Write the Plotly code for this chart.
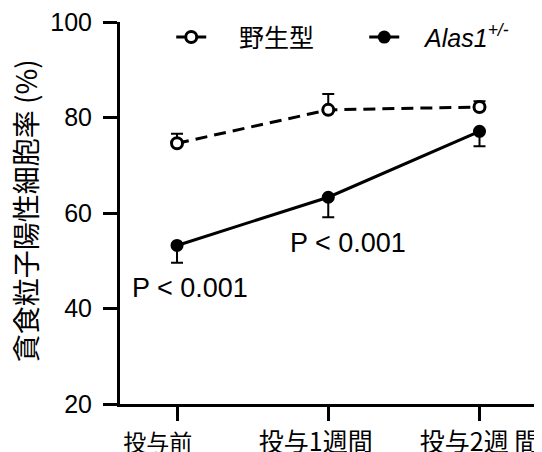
import plotly.graph_objects as go

NB = "\u00a0"
WS = "\u3000"
categories = ['<span style="font-size:23px">投与前' + WS + NB * 3 + '</span>',
              "投与1週間" + WS, "投与2週 間"]
wt_values = [74.6, 81.6, 82.2]
wt_err = [2.0, 3.3, 1.2]
alas_values = [53.2, 63.3, 77.1]
alas_err = [3.6, 4.2, 3.1]
y_ticks = [20, 40, 60, 80, 100]
p_labels = ["P < 0.001", "P < 0.001"]
y_title = "貪食粒子陽性細胞率 (%)"

FONT = "Liberation Sans, Arial, Noto Sans CJK JP, sans-serif"
CJK = "Noto Sans CJK JP, Liberation Sans, sans-serif"

x_idx = list(range(len(categories)))

fig = go.Figure()
fig.add_trace(go.Scatter(
    x=x_idx, y=wt_values, mode="lines+markers", name=NB * 4 + "野生型",
    line=dict(color="black", width=3, dash="12px,7px"),
    marker=dict(symbol="circle", size=11, color="white", line=dict(color="black", width=3)),
    error_y=dict(type="data", symmetric=False, array=wt_err, arrayminus=[0]*3,
                 color="black", thickness=2, width=6),
))
fig.add_trace(go.Scatter(
    x=x_idx, y=alas_values, mode="lines+markers", name=NB * 3 + "<i>Alas1<sup>+/-</sup></i>",
    line=dict(color="black", width=3),
    marker=dict(symbol="circle", size=13, color="black"),
    error_y=dict(type="data", symmetric=False, array=[0]*3, arrayminus=alas_err,
                 color="black", thickness=2, width=6),
))

fig.add_annotation(x=x_idx[0], y=alas_values[0] - 8.9, text=p_labels[0], showarrow=False,
                   xref="x", yref="y", xshift=13, font=dict(family=FONT, size=27, color="black"))
fig.add_annotation(x=x_idx[1], y=alas_values[1] - 9.6, text=p_labels[1], showarrow=False,
                   xref="x", yref="y", xshift=20, font=dict(family=FONT, size=27, color="black"))
fig.add_annotation(x=-0.226, y=0.505, xref="paper", yref="paper", text=y_title,
                   showarrow=False, textangle=-90, xanchor="center", yanchor="middle",
                   font=dict(family=CJK, size=28, color="black"))

fig.update_layout(
    width=542, height=452,
    margin=dict(l=112, r=10, t=14, b=56, autoexpand=False),
    paper_bgcolor="white", plot_bgcolor="white",
    font=dict(family=FONT, size=23, color="black"),
    showlegend=True,
    legend=dict(orientation="h", x=0.122, y=0.96, xanchor="left", yanchor="middle",
                font=dict(family=FONT, size=25), bgcolor="rgba(0,0,0,0)",
                itemwidth=30, tracegroupgap=0, entrywidth=148, entrywidthmode="pixels"),
)
fig.update_xaxes(
    range=[-0.377, 2.40], tickmode="array", tickvals=x_idx, ticktext=categories,
    showline=True, linecolor="black", linewidth=3, ticks="outside", ticklen=14,
    tickwidth=3, tickcolor="black", showgrid=False, zeroline=False, automargin=False,
    tickfont=dict(family=CJK, size=25), ticklabeloverflow="allow",
)
fig.update_yaxes(
    range=[20, 100], tickmode="array", tickvals=y_ticks,
    showline=True, linecolor="black", linewidth=3, ticks="outside", ticklen=14,
    tickwidth=3, tickcolor="black", showgrid=False, zeroline=False, automargin=False,
    tickfont=dict(family=FONT, size=25), ticklabelstandoff=6, ticklabeloverflow="allow",
)

fig.write_html("out.html")
